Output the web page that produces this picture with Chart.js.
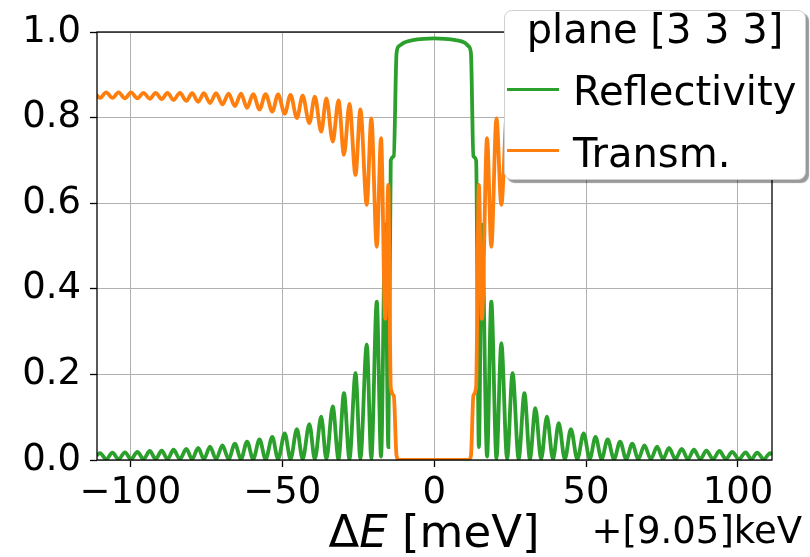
<!DOCTYPE html>
<html>
<head>
<meta charset="utf-8">
<script src="https://cdn.jsdelivr.net/npm/chart.js@4.4.1/dist/chart.umd.min.js"></script>
<style>
  html, body { margin: 0; padding: 0; background: #fff; }
  #wrap { position: relative; width: 810px; height: 557px; font-family: "DejaVu Sans", sans-serif; color: #000; }
  #chart { position: absolute; left: 0; top: 0; }
  .txt { position: absolute; white-space: nowrap; }
  #legend { position: absolute; left: 504px; top: 10px; width: 300px; height: 168px;
    background: #fff; border: 1px solid #d0d0d0; border-radius: 8px;
    box-shadow: 3px 3px 1px rgba(0, 0, 0, 0.4); }
  .swatch { position: absolute; left: 507px; width: 52px; height: 3px; }
</style>
</head>
<body>
<div id="wrap">
  <canvas id="chart" width="810" height="557"></canvas>
  <div id="legend"></div>
  <div class="txt" style="left:504px; width:302px; text-align:center; top:9px; font-size:40px; line-height:40px;">plane [3 3 3]</div>
  <div class="swatch" style="top:88px; background:#2ca02c;"></div>
  <div class="txt" style="left:573px; top:71px; font-size:40px; line-height:40px;">Reflectivity</div>
  <div class="swatch" style="top:149px; background:#ff7f0e;"></div>
  <div class="txt" style="left:573px; top:133px; font-size:40px; line-height:40px;">Transm.</div>
  <div class="txt" style="left:234px; width:400px; text-align:center; top:509px; font-size:45px; line-height:45px;">&Delta;<i>E</i> [meV]</div>
  <div class="txt" style="right:8px; top:512px; font-size:37px; line-height:37px;">+[9.05]keV</div>
</div>
<script>
// energy offset in meV, shared by both curves
const energy = [
  -111.2, -110.0, -108.0, -105.9, -103.9, -101.8, -99.8, -97.7, -95.7, -93.6,
  -91.7, -89.7, -87.8, -85.8, -83.7, -81.6, -79.7, -77.7, -75.8, -73.8,
  -71.8, -69.7, -67.7, -65.6, -63.6, -61.6, -59.6, -57.5, -55.5, -53.3,
  -51.4, -49.2, -47.3, -45.2, -43.3, -41.1, -39.3, -37.2, -35.5, -33.4,
  -31.5, -29.7, -27.9, -25.9, -24.3, -22.2, -20.7, -18.9, -17.5, -16.1,
  -15.1, -14.3, -13.3, -12.4, -11.6, -10.0, -7.0, -3.5, 0,
  3.5, 7.0, 10.0, 11.3, 12.1, 12.9, 13.8, 14.7, 15.7, 17.4,
  18.8, 20.5, 22.1, 24.0, 25.8, 27.8, 29.7, 31.5, 33.3, 35.2,
  37.1, 39.1, 41.0, 43.0, 45.0, 47.1, 49.2, 51.2, 53.1, 55.1,
  57.1, 59.2, 61.2, 63.2, 65.2, 67.2, 69.2, 71.3, 73.4, 75.3,
  77.3, 79.4, 81.5, 83.5, 85.5, 87.6, 89.6, 91.8, 93.9, 96.0,
  98.1, 100.3, 102.5, 104.4, 106.3, 108.5, 110.6, 111.2
]

const reflectivity = [
  0.010, 0.016, 0.002, 0.017, 0.002, 0.018, 0.002, 0.019, 0.002, 0.021,
  0.002, 0.022, 0.002, 0.024, 0.002, 0.026, 0.002, 0.028, 0.002, 0.031,
  0.002, 0.034, 0.002, 0.038, 0.002, 0.043, 0.002, 0.048, 0.002, 0.054,
  0.002, 0.062, 0.002, 0.072, 0.002, 0.084, 0.002, 0.101, 0.002, 0.125,
  0.002, 0.156, 0.002, 0.203, 0.003, 0.270, 0.004, 0.370, 0.008, 0.550,
  0.030, 0.700, 0.710, 0.950, 0.967, 0.975, 0.981, 0.984, 0.985,
  0.984, 0.981, 0.975, 0.967, 0.950, 0.710, 0.700, 0.030, 0.550, 0.008,
  0.370, 0.004, 0.273, 0.003, 0.203, 0.002, 0.156, 0.002, 0.121, 0.002,
  0.101, 0.002, 0.086, 0.002, 0.072, 0.002, 0.062, 0.002, 0.054, 0.002,
  0.048, 0.002, 0.043, 0.002, 0.038, 0.002, 0.034, 0.002, 0.031, 0.002,
  0.028, 0.002, 0.026, 0.002, 0.024, 0.002, 0.022, 0.002, 0.021, 0.002,
  0.019, 0.002, 0.018, 0.002, 0.017, 0.002, 0.016, 0.012
]

const transmission = [
  0.853, 0.846, 0.859, 0.846, 0.859, 0.845, 0.859, 0.845, 0.858, 0.844,
  0.858, 0.843, 0.858, 0.841, 0.858, 0.839, 0.857, 0.837, 0.857, 0.834,
  0.857, 0.831, 0.856, 0.827, 0.856, 0.823, 0.855, 0.819, 0.855, 0.814,
  0.854, 0.809, 0.853, 0.799, 0.851, 0.787, 0.849, 0.767, 0.845, 0.744,
  0.840, 0.713, 0.832, 0.666, 0.819, 0.596, 0.798, 0.498, 0.752, 0.330,
  0.643, 0.170, 0.150, 0.010, 0.000, 0.000, 0.000, 0.000, 0.000,
  0.000, 0.000, 0.000, 0.000, 0.010, 0.150, 0.170, 0.643, 0.330, 0.752,
  0.498, 0.798, 0.596, 0.819, 0.666, 0.832, 0.713, 0.840, 0.744, 0.845,
  0.767, 0.849, 0.787, 0.851, 0.799, 0.853, 0.809, 0.854, 0.814, 0.855,
  0.819, 0.855, 0.823, 0.856, 0.827, 0.856, 0.831, 0.857, 0.834, 0.857,
  0.837, 0.857, 0.839, 0.858, 0.841, 0.858, 0.843, 0.858, 0.844, 0.858,
  0.845, 0.859, 0.845, 0.859, 0.846, 0.859, 0.846, 0.850
]

const xTicks = [-100, -50, 0, 50, 100]
const yTicks = [0, 0.2, 0.4, 0.6, 0.8, 1.0]

const toPoints = ys => energy.map((x, i) => ({ x: x, y: ys[i] }))

// full box round the plot, drawn over the curves like matplotlib spines
const frame = {
  id: 'frame',
  afterDatasetsDraw(chart) {
    const a = chart.chartArea
    const ctx = chart.ctx
    ctx.save()
    ctx.strokeStyle = '#000'
    ctx.lineWidth = 1.3
    ctx.strokeRect(a.left, a.top, a.right - a.left, a.bottom - a.top)
    ctx.restore()
  }
}

Chart.defaults.font.family = '"DejaVu Sans", sans-serif'
Chart.defaults.color = '#000'

new Chart(document.getElementById('chart'), {
  type: 'line',
  data: {
    datasets: [
      {
        label: 'Reflectivity',
        data: toPoints(reflectivity),
        borderColor: '#2ca02c',
        borderWidth: 3.8,
        order: 1
      },
      {
        label: 'Transm.',
        data: toPoints(transmission),
        borderColor: '#ff7f0e',
        borderWidth: 3.8,
        order: 0
      }
    ]
  },
  options: {
    responsive: false,
    animation: false,
    devicePixelRatio: 1,
    layout: { padding: { top: 32, right: 38, left: 0, bottom: 0 } },
    elements: {
      point: { radius: 0 },
      line: { cubicInterpolationMode: 'monotone', fill: false }
    },
    plugins: {
      legend: { display: false },
      tooltip: { enabled: false }
    },
    scales: {
      x: {
        type: 'linear',
        min: -111,
        max: 111.2,
        afterFit(scale) { scale.height = 97 },
        afterBuildTicks(scale) { scale.ticks = xTicks.map(v => ({ value: v })) },
        border: { display: false },
        grid: { color: '#b0b0b0', lineWidth: 1, tickLength: 7, tickColor: '#000', tickWidth: 1.3 },
        ticks: {
          font: { size: 37 },
          padding: 4,
          maxRotation: 0,
          callback: v => String(v).replace('-', '\u2212')
        }
      },
      y: {
        min: 0,
        max: 1,
        afterFit(scale) { scale.width = 97 },
        afterBuildTicks(scale) { scale.ticks = yTicks.map(v => ({ value: v })) },
        border: { display: false },
        grid: { color: '#b0b0b0', lineWidth: 1, tickLength: 7, tickColor: '#000', tickWidth: 1.3 },
        ticks: {
          font: { size: 37 },
          padding: 9,
          callback: v => v.toFixed(1)
        }
      }
    }
  },
  plugins: [frame]
})
</script>
</body>
</html>
